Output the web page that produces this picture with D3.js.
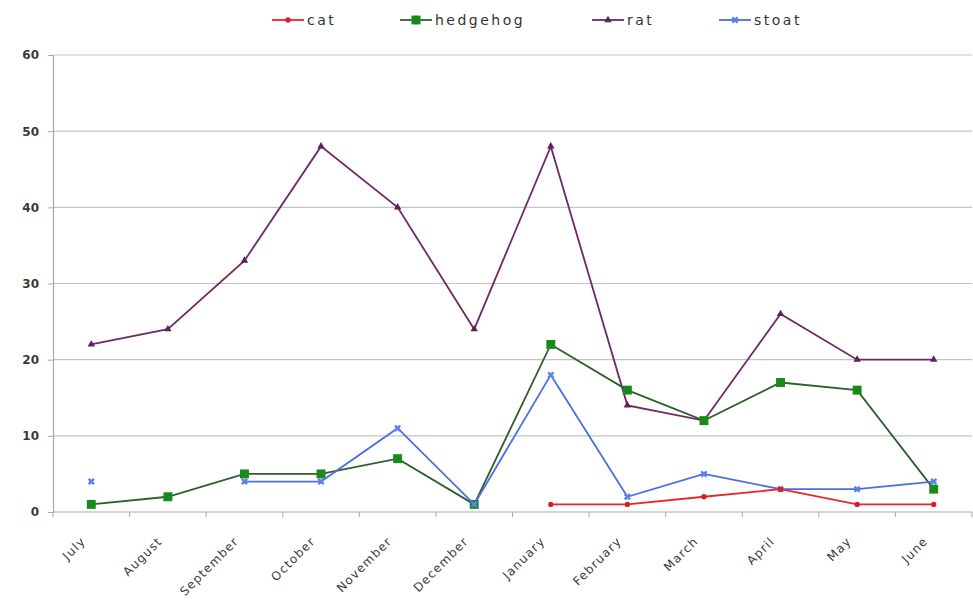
<!DOCTYPE html>
<html>
<head>
<meta charset="utf-8">
<script src="https://cdn.jsdelivr.net/npm/d3@7/dist/d3.min.js"></script>
<style>
  html, body { margin: 0; padding: 0; background: #fff; }
  svg { display: block; }
  text { font-family: "DejaVu Sans", "Liberation Sans", sans-serif; fill: #333; }
</style>
</head>
<body>
<svg id="chart" width="973" height="607"></svg>
<script>
// Monthly catches per predator species
const months = ["July", "August", "September", "October", "November", "December",
                "January", "February", "March", "April", "May", "June"];
const cat      = [null, null, null, null, null, null, 1, 1, 2, 3, 1, 1];
const hedgehog = [1, 2, 5, 5, 7, 1, 22, 16, 12, 17, 16, 3];
const rat      = [22, 24, 33, 48, 40, 24, 48, 14, 12, 26, 20, 20];
const stoat    = [4, null, 4, 4, 11, 1, 18, 2, 5, 3, 3, 4];
const yTicks   = [0, 10, 20, 30, 40, 50, 60];

const seriesNames = ["cat", "hedgehog", "rat", "stoat"];
const seriesValues = { cat, hedgehog, rat, stoat };
const style = {
  cat:      { line: "#e8262c", marker: "#d81e24", shape: d3.symbolCircle,   size: 22 },
  hedgehog: { line: "#2f5f2f", marker: "#178a1a", shape: d3.symbolSquare,   size: 80 },
  rat:      { line: "#6e2a66", marker: "#5e1f5a", shape: d3.symbolTriangle, size: 24 },
  stoat:    { line: "#4a6fe0", marker: "#5a7ff0", shape: d3.symbolCross,    size: 30 }
};

const svg = d3.select("#chart");
const plotLeft = 53, plotRight = 972, plotTop = 55, plotBottom = 512;

const x = d3.scaleBand().domain(months).range([plotLeft, plotRight]).padding(0);
const y = d3.scaleLinear().domain([0, 60]).range([plotBottom, plotTop]);
const cx = m => x(m) + x.bandwidth() / 2;

// horizontal gridlines
svg.append("g").selectAll("line").data(yTicks.filter(t => t > 0)).join("line")
  .attr("x1", plotLeft).attr("x2", plotRight)
  .attr("y1", d => y(d)).attr("y2", d => y(d))
  .attr("stroke", "#c4c4c4").attr("stroke-width", 1.2);

// y axis
const yAxis = svg.append("g").attr("transform", `translate(${plotLeft},0)`)
  .call(d3.axisLeft(y).tickValues(yTicks).tickSize(5).tickPadding(9));
yAxis.select(".domain").attr("stroke", "#aaa").attr("stroke-width", 1.2);
yAxis.selectAll(".tick line").attr("stroke", "#aaa");
yAxis.selectAll("text").attr("font-size", 12).attr("font-weight", "bold")
  .attr("font-family", "DejaVu Sans, sans-serif").style("fill", "#3a3a3a");

// x axis: baseline, ticks at category boundaries, rotated labels
const xg = svg.append("g");
xg.append("line").attr("x1", plotLeft).attr("x2", plotRight)
  .attr("y1", plotBottom).attr("y2", plotBottom).attr("stroke", "#aaa").attr("stroke-width", 1.2);
const bounds = months.map(m => x(m)).concat([x(months[months.length - 1]) + x.bandwidth()]);
xg.selectAll("line.tk").data(bounds).join("line").attr("class", "tk")
  .attr("x1", d => d).attr("x2", d => d)
  .attr("y1", plotBottom).attr("y2", plotBottom + 5).attr("stroke", "#aaa");
xg.selectAll("text").data(months).join("text")
  .attr("transform", d => `translate(${cx(d) - 8},${plotBottom + 27}) rotate(-45)`)
  .attr("text-anchor", "end").attr("dy", "0.35em")
  .attr("font-size", 12).attr("letter-spacing", 1.2).style("fill", "#3a3a3a")
  .text(d => d);

// series lines and markers
const line = d3.line().defined(d => d.v != null).x(d => cx(d.m)).y(d => y(d.v));
const drawOrder = ["rat", "hedgehog", "stoat", "cat"];
drawOrder.forEach(name => {
  const pts = months.map((m, i) => ({ m, v: seriesValues[name][i] }));
  const s = style[name];
  svg.append("path").datum(pts)
    .attr("fill", "none").attr("stroke", s.line).attr("stroke-width", 1.8)
    .attr("d", line);
  svg.append("g").selectAll("path").data(pts.filter(d => d.v != null)).join("path")
    .attr("transform", d => `translate(${cx(d.m)},${y(d.v)})` + (name === "stoat" ? " rotate(45)" : ""))
    .attr("d", d3.symbol().type(s.shape).size(s.size))
    .attr("fill", s.marker);
});

// legend
const legendX = { cat: 272, hedgehog: 400, rat: 592, stoat: 719 };
const lg = svg.append("g");
seriesNames.forEach(name => {
  const s = style[name];
  const x0 = legendX[name], ly = 20;
  lg.append("line").attr("x1", x0).attr("x2", x0 + 32).attr("y1", ly).attr("y2", ly)
    .attr("stroke", s.line).attr("stroke-width", 1.8);
  lg.append("path").attr("transform", `translate(${x0 + 16},${ly})` + (name === "stoat" ? " rotate(45)" : ""))
    .attr("d", d3.symbol().type(s.shape).size(s.size)).attr("fill", s.marker);
  lg.append("text").attr("x", x0 + 35).attr("y", ly).attr("dy", "0.35em")
    .attr("font-size", 14).attr("letter-spacing", 2.5).style("fill", "#333").text(name);
});
</script>
</body>
</html>
